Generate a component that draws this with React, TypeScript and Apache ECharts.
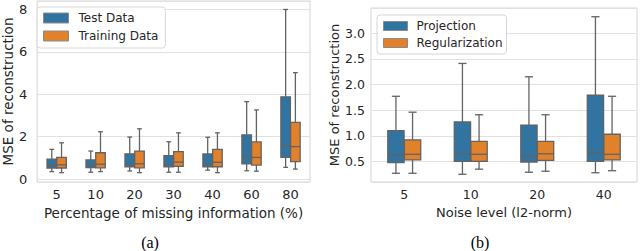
import React, { useEffect, useRef } from "react";
import * as echarts from "echarts";

// ---- data (each entry: [whiskerLow, q1, median, q3, whiskerHigh]) ----
const missingCategories = ["5", "10", "20", "30", "40", "60", "80"];
const testData = [
  [0.35, 0.52, 0.67, 0.94, 1.4],
  [0.32, 0.54, 0.65, 0.9, 1.32],
  [0.38, 0.57, 0.69, 1.19, 1.98],
  [0.32, 0.57, 0.7, 1.1, 1.76],
  [0.42, 0.58, 0.72, 1.18, 1.97],
  [0.39, 0.72, 1.07, 2.08, 3.65],
  [0.55, 1.02, 1.56, 3.88, 8.0],
];
const trainingData = [
  [0.3, 0.52, 0.67, 1.02, 1.71],
  [0.35, 0.53, 0.7, 1.24, 2.23],
  [0.3, 0.53, 0.72, 1.32, 2.37],
  [0.32, 0.6, 0.8, 1.29, 2.18],
  [0.3, 0.58, 0.79, 1.4, 2.18],
  [0.37, 0.66, 1.02, 1.75, 3.26],
  [0.47, 0.82, 1.53, 2.67, 5.02],
];

const noiseCategories = ["5", "10", "20", "40"];
const projectionData = [
  [0.27, 0.48, 0.62, 1.1, 1.77],
  [0.25, 0.5, 0.65, 1.27, 2.41],
  [0.29, 0.49, 0.6, 1.21, 2.15],
  [0.28, 0.5, 0.67, 1.79, 3.32],
];
const regularizationData = [
  [0.27, 0.53, 0.64, 0.92, 1.46],
  [0.35, 0.5, 0.64, 0.89, 1.41],
  [0.31, 0.52, 0.65, 0.89, 1.41],
  [0.32, 0.53, 0.64, 1.03, 1.77],
];

const BLUE = "#3274a1";
const ORANGE = "#e1812c";
const EDGE = "#636363";
const TEXT = "#262626";
const FONT = "DejaVu Sans";

function boxSeries(name: string, data: number[][], color: string, side: number, axisIdx: number) {
  return {
    type: "custom",
    name,
    xAxisIndex: axisIdx,
    yAxisIndex: axisIdx,
    itemStyle: { color },
    encode: { x: 0, y: [1, 2, 3, 4, 5] },
    data: data.map((d, i) => [i, ...d]),
    renderItem: (params: any, api: any) => {
      const idx = api.value(0);
      const low = api.coord([idx, api.value(1)]);
      const q1 = api.coord([idx, api.value(2)]);
      const med = api.coord([idx, api.value(3)]);
      const q3 = api.coord([idx, api.value(4)]);
      const high = api.coord([idx, api.value(5)]);
      const bw = api.size([1, 0])[0];
      const boxW = bw * 0.245;
      const cx = low[0] + side * bw * 0.125;
      const capW = boxW / 2;
      const ls = { stroke: EDGE, lineWidth: 1.3 };
      return {
        type: "group",
        children: [
          { type: "line", shape: { x1: cx, y1: q3[1], x2: cx, y2: high[1] }, style: ls },
          { type: "line", shape: { x1: cx, y1: q1[1], x2: cx, y2: low[1] }, style: ls },
          { type: "line", shape: { x1: cx - capW / 2, y1: high[1], x2: cx + capW / 2, y2: high[1] }, style: ls },
          { type: "line", shape: { x1: cx - capW / 2, y1: low[1], x2: cx + capW / 2, y2: low[1] }, style: ls },
          {
            type: "rect",
            shape: { x: cx - boxW / 2, y: q3[1], width: boxW, height: q1[1] - q3[1] },
            style: { fill: color, stroke: EDGE, lineWidth: 1.3 },
          },
          { type: "line", shape: { x1: cx - boxW / 2, y1: med[1], x2: cx + boxW / 2, y2: med[1] }, style: ls },
        ],
      };
    },
  };
}

function legendItem(name: string, color: string) {
  return { name, icon: "rect", itemStyle: { color, borderColor: "#8a8a8a", borderWidth: 1 } };
}

export default function App() {
  const ref = useRef<HTMLDivElement>(null);
  useEffect(() => {
    if (!ref.current) return;
    const chart = echarts.init(ref.current, undefined, { renderer: "svg" });
    const axisCommonX = {
      type: "category",
      axisLine: { show: false },
      axisTick: { show: false },
      splitLine: { show: false },
      nameLocation: "middle",
      nameTextStyle: { color: TEXT, fontFamily: FONT },
    };
    const axisCommonY = {
      type: "value",
      axisLine: { show: false },
      axisTick: { show: false },
      splitLine: { show: true, lineStyle: { color: "#e1e1e1", width: 1 } },
      nameLocation: "middle",
      nameTextStyle: { color: TEXT, fontFamily: FONT },
    };
    chart.setOption({
      animation: false,
      backgroundColor: "#ffffff",
      grid: [
        { left: 36, top: 1, width: 274, height: 181, show: true, borderColor: "#d4d4d4", borderWidth: 1 },
        { left: 371, top: 8, width: 266, height: 174, show: true, borderColor: "#d4d4d4", borderWidth: 1 },
      ],
      xAxis: [
        {
          ...axisCommonX,
          gridIndex: 0,
          data: missingCategories,
          name: "Percentage of missing information (%)",
          nameGap: 21,
          nameTextStyle: { color: TEXT, fontFamily: FONT, fontSize: 13.5 },
          axisLabel: { color: TEXT, fontFamily: FONT, fontSize: 13, margin: 6 },
        },
        {
          ...axisCommonX,
          gridIndex: 1,
          data: noiseCategories,
          name: "Noise level (l2-norm)",
          nameGap: 21,
          nameTextStyle: { color: TEXT, fontFamily: FONT, fontSize: 13 },
          axisLabel: { color: TEXT, fontFamily: FONT, fontSize: 12.5, margin: 6 },
        },
      ],
      yAxis: [
        {
          ...axisCommonY,
          gridIndex: 0,
          min: -0.14,
          max: 8.4,
          splitNumber: 5,
          name: "MSE of reconstruction",
          nameGap: 22,
          nameTextStyle: { color: TEXT, fontFamily: FONT, fontSize: 13.5 },
          axisLabel: { color: TEXT, fontFamily: FONT, fontSize: 13, margin: 10, showMinLabel: false, showMaxLabel: false },
        },
        {
          ...axisCommonY,
          gridIndex: 1,
          min: 0.1,
          max: 3.49,
          splitNumber: 6,
          name: "MSE of reconstruction",
          nameGap: 27,
          nameTextStyle: { color: TEXT, fontFamily: FONT, fontSize: 13 },
          axisLabel: {
            color: TEXT,
            fontFamily: FONT,
            fontSize: 12.5,
            margin: 6,
            showMinLabel: false,
            showMaxLabel: false,
            formatter: (v: number) => v.toFixed(1),
          },
        },
      ],
      legend: [
        {
          left: 37,
          top: 7,
          orient: "vertical",
          itemWidth: 25,
          itemHeight: 10,
          itemGap: 4,
          padding: [4, 7, 5, 6],
          borderColor: "#d6d6d6",
          borderWidth: 1,
          borderRadius: 3,
          backgroundColor: "rgba(255,255,255,0.9)",
          textStyle: { color: TEXT, fontFamily: FONT, fontSize: 12, lineHeight: 14, padding: [0, 0, 0, 5] },
          data: [legendItem("Test Data", BLUE), legendItem("Training Data", ORANGE)],
        },
        {
          left: 377,
          top: 15,
          orient: "vertical",
          itemWidth: 24,
          itemHeight: 9,
          itemGap: 3,
          padding: [4, 4, 4, 6],
          borderColor: "#d6d6d6",
          borderWidth: 1,
          borderRadius: 3,
          backgroundColor: "rgba(255,255,255,0.9)",
          textStyle: { color: TEXT, fontFamily: FONT, fontSize: 12, lineHeight: 14, padding: [0, 0, 0, 4] },
          data: [legendItem("Projection", BLUE), legendItem("Regularization", ORANGE)],
        },
      ],
      graphic: [
        {
          type: "text",
          x: 150,
          y: 242,
          style: { text: "(a)", fontFamily: "Liberation Serif", fontSize: 16, fill: "#000", align: "center", verticalAlign: "middle" },
        },
        {
          type: "text",
          x: 480,
          y: 242,
          style: { text: "(b)", fontFamily: "Liberation Serif", fontSize: 16, fill: "#000", align: "center", verticalAlign: "middle" },
        },
      ],
      series: [
        boxSeries("Test Data", testData, BLUE, -1, 0),
        boxSeries("Training Data", trainingData, ORANGE, 1, 0),
        boxSeries("Projection", projectionData, BLUE, -1, 1),
        boxSeries("Regularization", regularizationData, ORANGE, 1, 1),
      ],
    });
    return () => chart.dispose();
  }, []);
  return <div ref={ref} style={{ position: "fixed", left: 0, top: 0, width: 640, height: 251 }} />;
}
